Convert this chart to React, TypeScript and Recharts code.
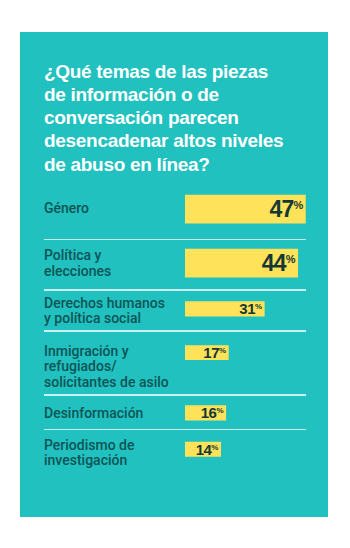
import { BarChart, Bar, XAxis, YAxis, LabelList } from 'recharts';

const titleLines = [
  '¿Qué temas de las piezas',
  'de información o de',
  'conversación parecen',
  'desencadenar altos niveles',
  'de abuso en línea?',
];

const categories = [
  'Género',
  'Política y\nelecciones',
  'Derechos humanos\ny política social',
  'Inmigración y\nrefugiados/\nsolicitantes de asilo',
  'Desinformación',
  'Periodismo de\ninvestigación',
];

const values = [47, 44, 31, 17, 16, 14];

// row geometry in px (layout only)
const rowHeights = [53.5, 49.25, 39.5, 62.5, 32.75, 45];
const barTops = [7.7, 6.7, 9.25, 12.25, 8.25, 10.7];
const barSizes = [32, 32, 17, 16.5, 17, 16.7];
const labelShifts = [-1, -7.5, -5.7, -1.5, 0, -4];

const TEAL = '#20c1be';
const YELLOW = '#fde25a';
const LABEL = '#0f5457';
const VALUE = '#143834';
const RULE = '#c9f3f1';

const CHART_W = 262;
const AXIS_W = 141;

const CategoryTick = (props: any) => {
  const { y, payload, shift } = props;
  const lines: string[] = String(payload.value).split('\n');
  return (
    <text
      x={0}
      y={y + shift}
      fill={LABEL}
      fontSize={14}
      fontWeight={500}
      fontFamily="Roboto, 'Liberation Sans', sans-serif"
    >
      {lines.map((l, i) => (
        <tspan key={i} x={0} dy={i === 0 ? '0.35em' : 15.4}>
          {l}
        </tspan>
      ))}
    </text>
  );
};

const ValueLabel = (props: any) => {
  const { x, y, width, height, value } = props;
  const big = height > 24;
  return (
    <text
      x={x + width - 2.5}
      y={y + height / 2}
      textAnchor="end"
      fill={VALUE}
      fontWeight={700}
      fontFamily="'Liberation Sans', Arial, sans-serif"
    >
      <tspan fontSize={big ? 23 : 15} dy={big ? 8.2 : 5.4} letterSpacing={big ? -0.8 : -0.5}>
        {value}
      </tspan>
      <tspan fontSize={big ? 11 : 8} dy={big ? -8.6 : -5}>
        %
      </tspan>
    </text>
  );
};

const Row = ({ i }: { i: number }) => {
  const data = [{ name: categories[i], value: values[i] }];
  const h = rowHeights[i];
  return (
    <BarChart
      width={CHART_W}
      height={h}
      data={data}
      layout="vertical"
      barCategoryGap={0}
      margin={{ top: barTops[i], bottom: h - barTops[i] - barSizes[i], left: 0, right: 0 }}
    >
      <XAxis type="number" domain={[0, 47.1]} hide />
      <YAxis
        type="category"
        dataKey="name"
        width={AXIS_W}
        interval={0}
        axisLine={false}
        tickLine={false}
        tick={(p: any) => <CategoryTick {...p} shift={labelShifts[i]} />}
      />
      <Bar dataKey="value" fill={YELLOW} barSize={barSizes[i]} isAnimationActive={false}>
        <LabelList dataKey="value" content={(p: any) => <ValueLabel {...p} />} />
      </Bar>
    </BarChart>
  );
};

export default function App() {
  return (
    <div style={{ position: 'absolute', left: 0, top: 0, width: 350, height: 548, background: '#fff', overflow: 'hidden' }}>
      <div style={{ position: 'absolute', left: 20, top: 32, width: 308, height: 485, background: TEAL }} />
      <div
        style={{
          position: 'absolute',
          left: 44,
          top: 59.5,
          color: '#fff',
          fontFamily: "'Liberation Sans', Arial, sans-serif",
          fontWeight: 700,
          fontSize: 19,
          lineHeight: '23.3px',
          letterSpacing: -0.3,
          whiteSpace: 'nowrap',
        }}
      >
        {titleLines.map((t, i) => (
          <div key={i}>{t}</div>
        ))}
      </div>
      <div style={{ position: 'absolute', left: 44, top: 185, width: CHART_W }}>
        {values.map((_, i) => (
          <div key={i}>
            <Row i={i} />
            {i < values.length - 1 && <div style={{ height: 1.5, background: RULE }} />}
          </div>
        ))}
      </div>
    </div>
  );
}
